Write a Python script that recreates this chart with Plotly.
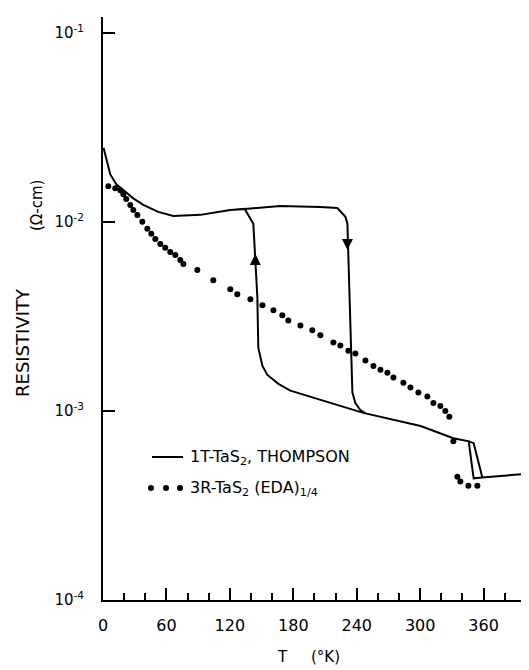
"""Resistivity of 1T-TaS2 (Thompson) and 3R-TaS2 (EDA)1/4 versus temperature."""
import plotly.graph_objects as go

FONT = "DejaVu Sans"

# 1T-TaS2 hysteresis loop, None splits the separate strokes of the curve
T_1T = [
    0.5, 6.9, 12.6, 19.2, 28.7, 38.1, 52.3, 66.5, 92.1, 120.4, 134.0,
    142.2, 144.1, 146.0, 146.9, 150.8, 155.5, 165.9, 177.2, 246.2, 300.4, 331.4,
    345.9, 350.6, 358.8, 402.0,
    None,
    134.0, 167.8, 205.6, 221.7, 229.3, 231.2, 232.1, 234.0, 235.9, 238.7, 243.4, 248.2,
    None,
    345.9, 350.6, 358.8,
]
RHO_1T = [
    0.0246, 0.0178, 0.0158, 0.0147, 0.0133, 0.0123, 0.01128, 0.01074, 0.01088, 0.01155, 0.0117,
    0.00977, 0.00652, 0.00399, 0.00216, 0.00173, 0.00155, 0.00139, 0.00128, 0.000976, 0.000832, 0.000717,
    0.00069, 0.00044, 0.000445, 0.000465,
    None,
    0.0117, 0.01212, 0.01196, 0.01183, 0.01062, 0.00977, 0.00652, 0.00276, 0.00125, 0.0011, 0.00101, 0.00097,
    None,
    0.00069, 0.000675, 0.000445,
]

# direction arrows on the two vertical branches
T_ARROW = [144.1, 231.2]
RHO_ARROW = [0.00676, 0.0071]
ARROW_SYMBOLS = ["arrow-up", "arrow-down"]

# 3R-TaS2 (EDA)1/4 data points
T_3R = [
    5.0, 11.6, 16.4, 19.2, 22.0, 25.8, 28.7, 32.5, 37.2, 41.9, 45.7, 49.5, 54.2, 58.9, 63.6,
    68.4, 73.1, 76.0, 89.2, 104.3, 120.4, 127.0, 139.4, 150.8, 161.2, 169.6, 175.3, 186.7,
    198.0, 205.6, 217.9, 224.5, 232.1, 238.7, 248.2, 255.8, 262.4, 269.0, 274.7, 284.1,
    290.8, 298.3, 306.8, 312.5, 319.1, 323.8, 327.6,
    331.4, 335.2, 338.0, 345.6, 354.1,
]
RHO_3R = [
    0.0154, 0.01503, 0.01468, 0.0140, 0.01318, 0.01227, 0.01155, 0.01087, 0.0100, 0.00918,
    0.00864, 0.00812, 0.00764, 0.00728, 0.00692, 0.00667, 0.00628, 0.00598, 0.00556, 0.00491,
    0.0044, 0.00414, 0.00389, 0.00362, 0.00341, 0.0032, 0.00301, 0.00283, 0.00267, 0.00251,
    0.0023, 0.00222, 0.00208, 0.00201, 0.00185, 0.00173, 0.00165, 0.00159, 0.0015, 0.00141,
    0.00133, 0.00125, 0.00119, 0.0011, 0.00106, 0.0010, 0.00093,
    0.000692, 0.000449, 0.000423, 0.000402, 0.000402,
]

X_TICKS = [0, 60, 120, 180, 240, 300, 360]
Y_TICKS = [1e-4, 1e-3, 1e-2, 1e-1]
Y_TICK_TEXT = ["10<sup>-4</sup>", "10<sup>-3</sup>", "10<sup>-2</sup>", "10<sup>-1</sup>"]

LEGEND_1T = "1T-TaS<sub>2</sub>, THOMPSON"
LEGEND_3R = "3R-TaS<sub>2</sub> (EDA)<sub>1/4</sub>"

fig = go.Figure()
fig.add_trace(
    go.Scatter(
        x=T_1T, y=RHO_1T, mode="lines", connectgaps=False,
        line={"color": "black", "width": 2}, showlegend=False,
    )
)
fig.add_trace(
    go.Scatter(
        x=T_ARROW, y=RHO_ARROW, mode="markers", showlegend=False,
        marker={"symbol": ARROW_SYMBOLS, "size": 11, "color": "black", "line": {"width": 0}},
    )
)
fig.add_trace(
    go.Scatter(
        x=T_3R, y=RHO_3R, mode="markers", showlegend=False,
        marker={"size": 6, "color": "black"},
    )
)

# page pixels of the plot area (the page body adds an 8px offset)
px_w, px_h, left, bottom = 425, 583, 103, 600


def px(x):
    return (x - left) / px_w


def py(y):
    return (bottom - y) / px_h


# hand-drawn style legend inside the plot
fig.add_shape(type="line", xref="paper", yref="paper", x0=px(152), x1=px(183), y0=py(457), y1=py(457),
              line={"color": "black", "width": 2})
for cx in (151, 166, 180):
    fig.add_shape(type="circle", xref="paper", yref="paper", xsizemode="pixel", ysizemode="pixel",
                  xanchor=px(cx), yanchor=py(488), x0=-3, x1=3, y0=-3, y1=3,
                  fillcolor="black", line={"width": 0})

annotations = [
    dict(text=LEGEND_1T, x=px(188), y=py(457), xanchor="left"),
    dict(text=LEGEND_3R, x=px(188), y=py(488), xanchor="left"),
    dict(text="RESISTIVITY", x=px(22), y=py(343), textangle=-90, font={"family": FONT, "size": 18}),
    dict(text="(Ω-cm)", x=px(37), y=py(206), textangle=-90, font={"family": FONT, "size": 15}),
    dict(text="T\u00a0\u00a0\u00a0\u00a0\u00a0(°K)", x=px(308), y=py(657), font={"family": FONT, "size": 15}),
]
for a in annotations:
    font = a.pop("font", {"family": FONT, "size": 16})
    font["color"] = "black"
    a.setdefault("xanchor", "center")
    fig.add_annotation(xref="paper", yref="paper", yanchor="middle", showarrow=False, font=font, **a)

fig.update_xaxes(
    range=[0, 402], tickvals=X_TICKS, ticks="inside", ticklen=12, tickwidth=1.5, tickcolor="black",
    minor={"dtick": 20, "ticks": "inside", "ticklen": 7, "tickwidth": 1.5, "tickcolor": "black"},
    showline=True, linecolor="black", linewidth=2, showgrid=False, zeroline=False,
    tickfont={"family": FONT, "size": 16, "color": "black"}, ticklabelstandoff=10,
)
fig.update_yaxes(
    type="log", range=[-4, -0.917], tickvals=Y_TICKS, ticktext=Y_TICK_TEXT,
    ticks="inside", ticklen=12, tickwidth=1.5, tickcolor="black",
    showline=True, linecolor="black", linewidth=2, showgrid=False, zeroline=False,
    tickfont={"family": FONT, "size": 15, "color": "black"}, ticklabelstandoff=14,
)
fig.update_layout(
    width=521, height=662,
    margin={"l": 95, "r": 1, "t": 9, "b": 70},
    plot_bgcolor="white", paper_bgcolor="white",
    font={"family": FONT, "color": "black"},
    showlegend=False,
)

fig.write_html("out.html")
